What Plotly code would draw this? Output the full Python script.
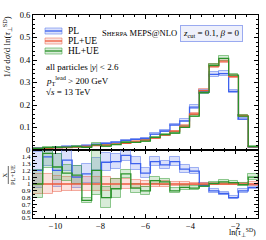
import plotly.graph_objects as go
from plotly.subplots import make_subplots

# ---------------- data ----------------
X_MIN, X_MAX, N_BINS = -11.0, -1.0, 23
# PL+UE (reference) normalised distribution
PLUE = [0.006, 0.007, 0.009, 0.011, 0.013, 0.016, 0.019, 0.022, 0.026, 0.030,
        0.036, 0.044, 0.053, 0.066, 0.084, 0.106, 0.160, 0.264, 0.373, 0.395,
        0.326, 0.152, 0.014]
# ratios to PL+UE
PL_RATIO = [1.20, 1.40, 1.20, 1.35, 1.10, 1.15, 1.20, 1.32, 1.33, 1.42, 1.30,
            1.16, 1.33, 1.28, 1.33, 1.22, 1.19, 0.98, 0.90, 0.86, 0.80, 0.90, 0.95]
HLUE_RATIO = [1.00, 1.45, 1.25, 1.16, 1.13, 0.76, 1.20, 0.80, 0.93, 1.15, 0.94,
              0.90, 1.05, 1.03, 0.90, 0.95, 0.94, 0.97, 1.01, 1.03, 1.02, 0.99, 1.10]
# relative statistical uncertainties
PL_ERR = [0.22, 0.10, 0.20, 0.12, 0.15, 0.12, 0.15, 0.10, 0.08, 0.06, 0.07, 0.06,
          0.05, 0.05, 0.05, 0.05, 0.04, 0.03, 0.03, 0.03, 0.03, 0.03, 0.03]
PLUE_ERR = [0.15, 0.14, 0.12, 0.10, 0.10, 0.10, 0.10, 0.10, 0.08, 0.07, 0.06, 0.05,
            0.04, 0.04, 0.03, 0.03, 0.02, 0.02, 0.02, 0.02, 0.02, 0.02, 0.03]
HLUE_ERR = [0.20, 0.15, 0.15, 0.10, 0.12, 0.05, 0.30, 0.20, 0.15, 0.05, 0.07, 0.07,
            0.05, 0.04, 0.04, 0.04, 0.03, 0.02, 0.02, 0.03, 0.02, 0.02, 0.04]

MAIN_TICKS = [0, 0.1, 0.2, 0.3, 0.4, 0.5, 0.6]
RATIO_TICKS = [0.5, 0.6, 0.7, 0.8, 0.9, 1.0, 1.1, 1.2, 1.3, 1.4]
X_TICKS = [-10, -8, -6, -4, -2]

# ---------------- derived ----------------
W = (X_MAX - X_MIN) / N_BINS
edges = [X_MIN + i * W for i in range(N_BINS + 1)]
centers = [X_MIN + (i + 0.5) * W for i in range(N_BINS)]

series = [
    dict(name="PL", ratio=PL_RATIO, err=PL_ERR, line="#3d62ee",
         fill="rgba(90,120,235,0.22)", edge="rgba(90,120,235,0.55)"),
    dict(name="PL+UE", ratio=[1.0] * N_BINS, err=PLUE_ERR, line="#ee5a3c",
         fill="rgba(235,110,90,0.20)", edge="rgba(235,110,90,0.55)"),
    dict(name="HL+UE", ratio=HLUE_RATIO, err=HLUE_ERR, line="#2a922a",
         fill="rgba(60,160,60,0.20)", edge="rgba(60,160,60,0.55)"),
]

fig = make_subplots(rows=2, cols=1, shared_xaxes=True, vertical_spacing=0,
                    row_heights=[0.665, 0.335])

SERIF = "Liberation Serif"

for s in series:
    vals = [p * r for p, r in zip(PLUE, s["ratio"])]
    lo = [v * (1 - e) for v, e in zip(vals, s["err"])]
    hi = [v * (1 + e) for v, e in zip(vals, s["err"])]
    fig.add_trace(go.Bar(x=centers, base=lo, y=[h - l for h, l in zip(hi, lo)],
                         width=W, marker=dict(color=s["fill"],
                                              line=dict(color=s["edge"], width=1)),
                         showlegend=False, hoverinfo="skip"), row=1, col=1)
    rlo = [r * (1 - e) for r, e in zip(s["ratio"], s["err"])]
    rhi = [r * (1 + e) for r, e in zip(s["ratio"], s["err"])]
    fig.add_trace(go.Bar(x=centers, base=rlo, y=[h - l for h, l in zip(rhi, rlo)],
                         width=W, marker=dict(color=s["fill"],
                                              line=dict(color=s["edge"], width=1)),
                         showlegend=False, hoverinfo="skip"), row=2, col=1)

for s in series:
    vals = [p * r for p, r in zip(PLUE, s["ratio"])]
    fig.add_trace(go.Scatter(x=edges, y=vals + [vals[-1]], mode="lines",
                             line=dict(color=s["line"], width=1.3, shape="hv"),
                             showlegend=False, hoverinfo="skip"), row=1, col=1)
    fig.add_trace(go.Scatter(x=edges, y=list(s["ratio"]) + [s["ratio"][-1]], mode="lines",
                             line=dict(color=s["line"], width=1.3, shape="hv"),
                             showlegend=False, hoverinfo="skip"), row=2, col=1)

axis_common = dict(showline=True, linecolor="black", linewidth=1, mirror="allticks",
                   ticks="inside", ticklen=4, tickcolor="black", tickwidth=0.8,
                   showgrid=False, zeroline=False,
                   tickfont=dict(family=SERIF, size=8.5, color="black"))

fig.update_xaxes(**axis_common, range=[X_MIN, X_MAX], tickvals=X_TICKS,
                 minor=dict(ticks="inside", ticklen=2, dtick=0.5, tickcolor="black",
                            showgrid=False))
fig.update_xaxes(showticklabels=False, row=1, col=1)
fig.update_xaxes(ticktext=["\u2212" + str(-t) for t in X_TICKS], row=2, col=1)

fig.update_yaxes(**axis_common)
fig.update_yaxes(range=[0, 0.6], tickvals=MAIN_TICKS,
                 ticktext=["0", "0.1", "0.2", "0.3", "0.4", "0.5", "0.6"],
                 minor=dict(ticks="inside", ticklen=2, dtick=0.02, tickcolor="black",
                            showgrid=False), row=1, col=1)
fig.update_yaxes(range=[0.5, 1.5], tickvals=RATIO_TICKS,
                 ticktext=[("%g" % t) for t in RATIO_TICKS],
                 tickfont=dict(family=SERIF, size=7, color="black"),
                 minor=dict(ticks="inside", ticklen=2, dtick=0.05, tickcolor="black",
                            showgrid=False), row=2, col=1)

L, R, T, B = 33, 8, 15, 22
PW, PH = 266 - L - R, 240 - T - B


def px(x):
    return (x - L) / PW


def py(y):
    return (240 - B - y) / PH


shapes = []
annotations = []
leg_y = [31, 41, 51]
for s, y in zip(series, leg_y):
    shapes.append(dict(type="rect", xref="paper", yref="paper",
                       x0=px(45), x1=px(62), y0=py(y + 3), y1=py(y - 3),
                       fillcolor=s["fill"], line=dict(color=s["edge"], width=1)))
    shapes.append(dict(type="line", xref="paper", yref="paper",
                       x0=px(45), x1=px(62), y0=py(y), y1=py(y),
                       line=dict(color=s["line"], width=1.3)))
    annotations.append(dict(x=px(66), y=py(y), xref="paper", yref="paper",
                            xanchor="left", yanchor="middle", showarrow=False,
                            text=s["name"], font=dict(family=SERIF, size=9.5, color="black")))

for txt, y in [("all particles |<i>y</i>| &lt; 2.6", 67),
               ("<i>p</i><sub>T</sub><sup>lead</sup> &gt; 200 GeV", 80),
               ("\u221a<i>s</i> = 13 TeV", 92)]:
    annotations.append(dict(x=px(44), y=py(y), xref="paper", yref="paper",
                            xanchor="left", yanchor="middle", showarrow=False,
                            text=txt, font=dict(family=SERIF, size=9, color="black")))

annotations.append(dict(x=px(100), y=py(33), xref="paper", yref="paper",
                        xanchor="left", yanchor="middle", showarrow=False,
                        text="S<span style='font-size:6.5px'>HERPA</span> MEPS@NLO",
                        font=dict(family=SERIF, size=8.5, color="black")))
annotations.append(dict(x=px(211.5), y=py(33), xref="paper", yref="paper",
                        xanchor="center", yanchor="middle", showarrow=False,
                        text="<i>z</i><sub>cut</sub> = 0.1, <i>\u03b2</i> = 0",
                        font=dict(family=SERIF, size=9, color="black"),
                        bgcolor="#eef0fb", bordercolor="#9aaaf0", borderwidth=1,
                        borderpad=2))
annotations.append(dict(x=px(7), y=py(15), xref="paper", yref="paper",
                        xanchor="center", yanchor="top", showarrow=False, textangle=-90,
                        text="1/<i>\u03c3</i> d<i>\u03c3</i>/d ln(<i>\u03c4</i><sub>\u22a5</sub><sup>SD</sup>)",
                        font=dict(family=SERIF, size=9, color="black")))
annotations.append(dict(x=px(8), y=py(175), xref="paper", yref="paper",
                        xanchor="center", yanchor="middle", showarrow=False, textangle=-90,
                        text="X<br>PL+UE",
                        font=dict(family=SERIF, size=6.5, color="black")))
shapes.append(dict(type="line", xref="paper", yref="paper",
                   x0=px(8.3), x1=px(8.3), y0=py(166), y1=py(184),
                   line=dict(color="black", width=0.6)))
annotations.append(dict(x=1.0, y=py(240), xref="paper", yref="paper",
                        xanchor="right", yanchor="bottom", showarrow=False,
                        text="ln(<i>\u03c4</i><sub>\u22a5</sub><sup>SD</sup>)",
                        font=dict(family=SERIF, size=8, color="black")))

fig.update_layout(width=266, height=240, margin=dict(l=L, r=R, t=T, b=B),
                  paper_bgcolor="white", plot_bgcolor="white", barmode="overlay",
                  bargap=0, showlegend=False, shapes=shapes, annotations=annotations)

fig.write_html("out.html", config={"displayModeBar": False},
               post_script="document.body.style.margin='0';document.body.style.padding='0';")
